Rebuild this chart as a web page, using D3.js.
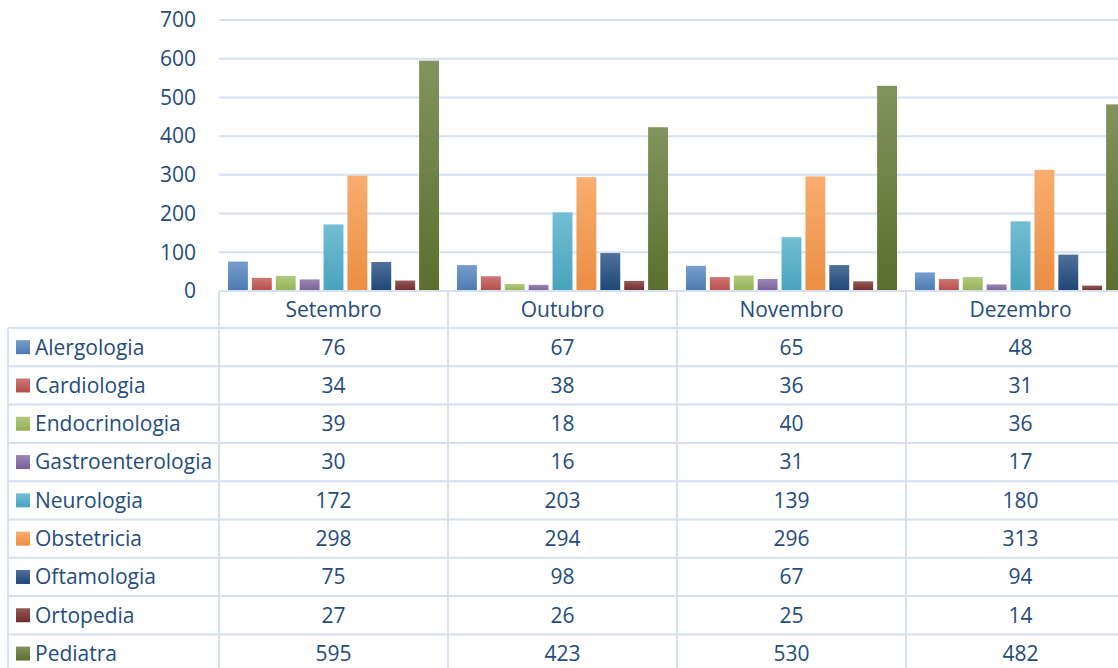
<!DOCTYPE html>
<html>
<head>
<meta charset="utf-8">
<script src="https://cdn.jsdelivr.net/npm/d3@7"></script>
<style>
  body { margin: 0; background: #fff; }
  svg { display: block; font-family: "Open Sans", Lato, sans-serif; }
</style>
</head>
<body>
<svg id="chart" width="1118" height="668"></svg>
<script>
var months = ["Setembro", "Outubro", "Novembro", "Dezembro"];
var series = ["Alergologia", "Cardiologia", "Endocrinologia", "Gastroenterologia",
              "Neurologia", "Obstetricia", "Oftamologia", "Ortopedia", "Pediatra"];
var values = [
  [76, 67, 65, 48],
  [34, 38, 36, 31],
  [39, 18, 40, 36],
  [30, 16, 31, 17],
  [172, 203, 139, 180],
  [298, 294, 296, 313],
  [75, 98, 67, 94],
  [27, 26, 25, 14],
  [595, 423, 530, 482]
];
var colors = ["#4F81BD", "#C0504D", "#9BBB59", "#8064A2", "#4BACC6",
              "#F79646", "#1F497D", "#772C2A", "#5F7530"];
var yTicks = [0, 100, 200, 300, 400, 500, 600, 700];

var textColor = "#244C7E",
    gridColor = "#D5E0F0",
    fontSize  = 21;

var svg = d3.select("#chart");

var defs = svg.append("defs");
series.forEach(function (s, i) {
  var g = defs.append("linearGradient")
    .attr("id", "grad" + i)
    .attr("x1", 0).attr("y1", 0).attr("x2", 0).attr("y2", 1);
  var base = d3.color(colors[i]);
  g.append("stop").attr("offset", "0%").attr("stop-color", d3.interpolateRgb(base, "#ffffff")(0.22));
  g.append("stop").attr("offset", "100%").attr("stop-color", base.darker(0.15));
});

var x0 = d3.scaleBand()
  .domain(months)
  .range([219, 219 + 229 * 4]);

var x1 = d3.scaleBand()
  .domain(series)
  .range([9, x0.bandwidth() - 9])
  .paddingInner(0.167);

var y = d3.scaleLinear()
  .domain([0, 700])
  .range([291, 20]);

var rows = d3.scaleBand()
  .domain(series)
  .range([328, 328 + 38.3 * 9]);

// gridlines
svg.append("g")
  .selectAll("line")
  .data(yTicks)
  .enter().append("line")
    .attr("x1", 219).attr("x2", 1118)
    .attr("y1", function (d) { return y(d); })
    .attr("y2", function (d) { return y(d); })
    .attr("stroke", gridColor)
    .attr("stroke-width", 2);

// y axis labels
var yAxis = d3.axisLeft(y).tickValues(yTicks).tickSize(0).tickPadding(0);
svg.append("g")
  .attr("transform", "translate(196,0)")
  .call(yAxis)
  .call(function (g) {
    g.select(".domain").remove();
    g.selectAll("text")
      .attr("fill", textColor)
      .attr("font-size", fontSize)
      .attr("font-family", "'Open Sans', sans-serif");
  });

// bars
var groups = svg.append("g")
  .selectAll("g")
  .data(months)
  .enter().append("g")
    .attr("transform", function (d) { return "translate(" + x0(d) + ",0)"; });

groups.selectAll("rect")
  .data(function (m, mi) {
    return series.map(function (s, si) { return { s: s, si: si, v: values[si][mi] }; });
  })
  .enter().append("rect")
    .attr("x", function (d) { return x1(d.s); })
    .attr("width", x1.bandwidth())
    .attr("y", function (d) { return y(d.v); })
    .attr("height", function (d) { return y(0) - y(d.v); })
    .attr("fill", function (d) { return "url(#grad" + d.si + ")"; });

// data table lines
var table = svg.append("g")
  .attr("stroke", gridColor)
  .attr("stroke-width", 2);

// horizontal lines
var hLines = [291].concat(series.map(function (s) { return rows(s); }));
table.selectAll("line.h")
  .data(hLines)
  .enter().append("line")
    .attr("class", "h")
    .attr("x1", function (d, i) { return i === 0 ? 219 : 8; })
    .attr("x2", 1118)
    .attr("y1", function (d) { return d; })
    .attr("y2", function (d) { return d; });

// vertical lines
var vLines = months.map(function (m) { return x0(m); });
table.selectAll("line.v")
  .data(vLines)
  .enter().append("line")
    .attr("class", "v")
    .attr("x1", function (d) { return d; })
    .attr("x2", function (d) { return d; })
    .attr("y1", 291).attr("y2", 668);

table.append("line")
  .attr("x1", 8).attr("x2", 8)
  .attr("y1", rows(series[0])).attr("y2", 668);

// month labels
svg.append("g")
  .selectAll("text")
  .data(months)
  .enter().append("text")
    .attr("x", function (d) { return x0(d) + x0.bandwidth() / 2; })
    .attr("y", 310)
    .attr("dy", "0.35em")
    .attr("text-anchor", "middle")
    .attr("fill", textColor)
    .attr("font-size", fontSize)
    .text(function (d) { return d; });

// legend column
var legend = svg.append("g")
  .selectAll("g")
  .data(series)
  .enter().append("g")
    .attr("transform", function (d) { return "translate(0," + (rows(d) + rows.bandwidth() / 2) + ")"; });

legend.append("rect")
  .attr("x", 16).attr("y", -7)
  .attr("width", 14).attr("height", 14)
  .attr("fill", function (d, i) { return "url(#grad" + i + ")"; });

legend.append("text")
  .attr("x", 35)
  .attr("dy", "0.35em")
  .attr("fill", textColor)
  .attr("font-size", fontSize)
  .text(function (d) { return d; });

// value cells
series.forEach(function (s, si) {
  svg.append("g")
    .selectAll("text")
    .data(values[si])
    .enter().append("text")
      .attr("x", function (d, mi) { return x0(months[mi]) + x0.bandwidth() / 2; })
      .attr("y", rows(s) + rows.bandwidth() / 2)
      .attr("dy", "0.35em")
      .attr("text-anchor", "middle")
      .attr("fill", textColor)
      .attr("font-size", fontSize)
      .text(function (d) { return d; });
});
</script>
</body>
</html>
